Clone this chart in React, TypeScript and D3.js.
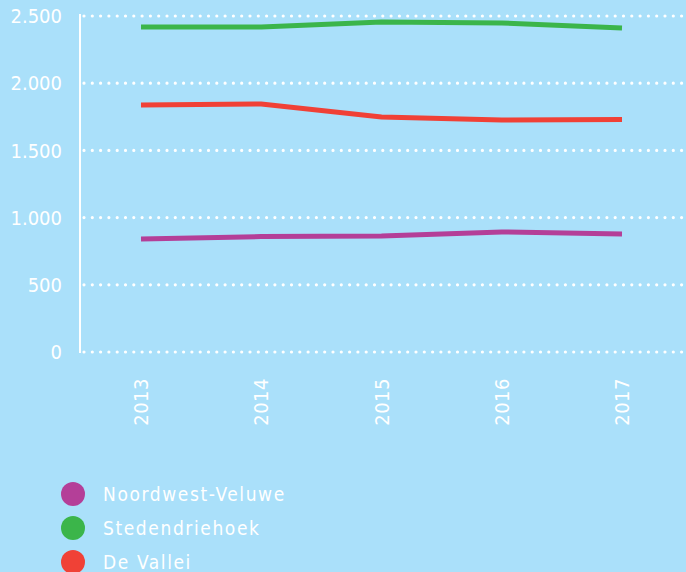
import React, { useRef, useEffect } from 'react';
import * as d3 from 'd3';

const years = ['2013', '2014', '2015', '2016', '2017'];
const noordwestVeluwe = [841, 859, 863, 893, 878];
const stedendriehoek = [2418, 2418, 2455, 2448, 2411];
const deVallei = [1838, 1845, 1748, 1726, 1730];
const yTicks = [0, 500, 1000, 1500, 2000, 2500];
const seriesNames = ['Noordwest-Veluwe', 'Stedendriehoek', 'De Vallei'];
const seriesColors = ['#b43f98', '#3bb54a', '#f04136'];

const App = () => {
  const svgRef = useRef<SVGSVGElement>(null);

  useEffect(() => {
    document.body.style.margin = '0';
    const width = 686;
    const height = 572;
    const svg = d3.select(svgRef.current);
    svg.selectAll('*').remove();
    svg.attr('width', width).attr('height', height);

    svg.append('rect').attr('width', width).attr('height', height).attr('fill', '#aae0fa');

    const font = "'DejaVu Sans Condensed', 'DejaVu Sans', sans-serif";

    const x = d3.scalePoint().domain(years).range([141, 622]);
    const y = d3.scaleLinear().domain([0, 2500]).range([352, 16]);

    // gridlines
    svg.append('g')
      .selectAll('line')
      .data(yTicks)
      .join('line')
      .attr('x1', 84)
      .attr('x2', width + 4)
      .attr('y1', d => y(d))
      .attr('y2', d => y(d))
      .attr('stroke', '#fff')
      .attr('stroke-width', 3.2)
      .attr('stroke-linecap', 'round')
      .attr('stroke-dasharray', '0 8.3');

    // y axis line
    svg.append('line')
      .attr('x1', 80).attr('x2', 80)
      .attr('y1', 14).attr('y2', 353)
      .attr('stroke', '#fff').attr('stroke-width', 2);

    svg.append('g')
      .selectAll('text')
      .data(yTicks)
      .join('text')
      .attr('x', 62)
      .attr('y', d => y(d))
      .attr('dy', '0.36em')
      .attr('text-anchor', 'end')
      .attr('fill', '#fff')
      .attr('font-family', font)
      .attr('font-size', 20)
      .attr('font-weight', 500)
      .text(d => d3.format(',')(d).replace(',', '.'));

    svg.append('g')
      .selectAll('text')
      .data(years)
      .join('text')
      .attr('transform', d => `translate(${x(d)! + 7},378) rotate(-90)`)
      .attr('text-anchor', 'end')
      .attr('fill', '#fff')
      .attr('font-family', font)
      .attr('font-size', 20)
      .attr('letter-spacing', 0.5)
      .text(d => d);

    const line = d3.line<number>()
      .x((d, i) => x(years[i])!)
      .y(d => y(d));

    [noordwestVeluwe, stedendriehoek, deVallei].forEach((s, i) => {
      svg.append('path')
        .datum(s)
        .attr('d', line)
        .attr('fill', 'none')
        .attr('stroke', seriesColors[i])
        .attr('stroke-width', 5);
    });

    // legend
    const legend = svg.append('g')
      .selectAll('g')
      .data(seriesNames)
      .join('g')
      .attr('transform', (d, i) => `translate(73,${494 + i * 34})`);
    legend.append('circle').attr('r', 12).attr('fill', (d, i) => seriesColors[i]);
    legend.append('text')
      .attr('x', 30)
      .attr('dy', '0.36em')
      .attr('fill', '#fff')
      .attr('font-family', font)
      .attr('font-size', 19)
      .attr('letter-spacing', 1.6)
      .text(d => d);
  }, []);

  return <svg ref={svgRef} style={{ display: 'block' }}></svg>;
};

export default App;
